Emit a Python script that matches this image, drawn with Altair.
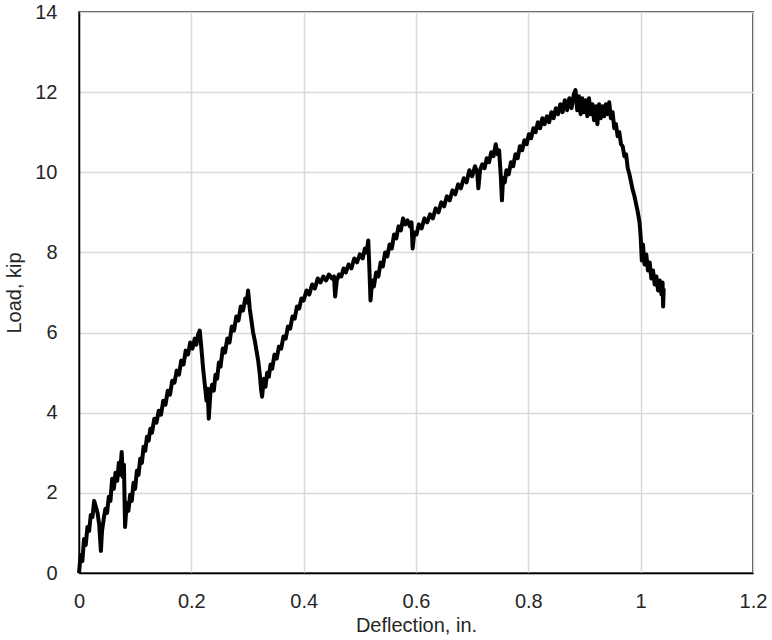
import altair as alt
import pandas as pd

deflection = [
    0.000, 0.003, 0.006, 0.009, 0.012, 0.015, 0.018, 0.021, 0.024, 0.027,
    0.030, 0.033, 0.036, 0.039, 0.041, 0.044, 0.047, 0.050, 0.053, 0.056,
    0.059, 0.062, 0.065, 0.068, 0.071, 0.073, 0.076, 0.078, 0.080, 0.082,
    0.085, 0.088, 0.091, 0.094, 0.097, 0.100, 0.103, 0.106, 0.109, 0.112,
    0.115, 0.118, 0.121, 0.124, 0.127, 0.130, 0.134, 0.138, 0.142, 0.146,
    0.150, 0.154, 0.158, 0.162, 0.166, 0.170, 0.174, 0.178, 0.182, 0.186,
    0.190, 0.194, 0.198, 0.202, 0.206, 0.209, 0.212, 0.215, 0.218, 0.221,
    0.224, 0.227, 0.229, 0.231, 0.234, 0.237, 0.240, 0.243, 0.246, 0.249,
    0.252, 0.256, 0.260, 0.264, 0.268, 0.272, 0.276, 0.280, 0.284, 0.288,
    0.292, 0.296, 0.299, 0.301, 0.304, 0.307, 0.310, 0.313, 0.316, 0.319,
    0.322, 0.324, 0.326, 0.329, 0.332, 0.335, 0.338, 0.341, 0.344, 0.348,
    0.352, 0.356, 0.360, 0.364, 0.368, 0.372, 0.376, 0.380, 0.384, 0.388,
    0.392, 0.396, 0.400, 0.405, 0.410, 0.415, 0.420, 0.425, 0.430, 0.435,
    0.440, 0.445, 0.450, 0.454, 0.456, 0.459, 0.463, 0.467, 0.471, 0.475,
    0.480, 0.485, 0.490, 0.495, 0.500, 0.505, 0.509, 0.512, 0.515, 0.517,
    0.519, 0.522, 0.525, 0.529, 0.533, 0.537, 0.541, 0.545, 0.549, 0.553,
    0.557, 0.561, 0.565, 0.569, 0.573, 0.577, 0.581, 0.585, 0.589, 0.592,
    0.594, 0.597, 0.601, 0.605, 0.610, 0.615, 0.620, 0.625, 0.630, 0.635,
    0.640, 0.645, 0.650, 0.655, 0.660, 0.665, 0.670, 0.675, 0.680, 0.685,
    0.690, 0.695, 0.700, 0.705, 0.709, 0.711, 0.714, 0.718, 0.722, 0.726,
    0.730, 0.734, 0.738, 0.742, 0.745, 0.748, 0.751, 0.753, 0.755, 0.758,
    0.761, 0.765, 0.769, 0.773, 0.777, 0.781, 0.785, 0.789, 0.793, 0.797,
    0.801, 0.805, 0.809, 0.813, 0.817, 0.821, 0.825, 0.829, 0.833, 0.837,
    0.841, 0.845, 0.849, 0.853, 0.857, 0.861, 0.865, 0.869, 0.873, 0.877,
    0.881, 0.884, 0.887, 0.890, 0.893, 0.896, 0.899, 0.902, 0.905, 0.908,
    0.911, 0.914, 0.917, 0.920, 0.923, 0.926, 0.929, 0.932, 0.935, 0.938,
    0.941, 0.944, 0.947, 0.950, 0.953, 0.956, 0.959, 0.962, 0.965, 0.968,
    0.971, 0.974, 0.977, 0.980, 0.983, 0.986, 0.989, 0.992, 0.995, 0.998,
    1.000, 1.002, 1.004, 1.007, 1.010, 1.013, 1.016, 1.019, 1.022, 1.025,
    1.028, 1.031, 1.034, 1.037, 1.039, 1.040, 1.041,
]

load = [
    0.00, 0.45, 0.30, 0.85, 0.70, 1.15, 1.05, 1.45, 1.40, 1.80,
    1.65, 1.50, 1.20, 0.55, 1.05, 1.35, 1.60, 1.50, 1.90, 1.80,
    2.35, 2.10, 2.50, 2.30, 2.75, 2.45, 3.02, 2.40, 2.70, 1.15,
    1.75, 1.55, 1.95, 1.80, 2.25, 2.10, 2.55, 2.45, 2.85, 2.75,
    3.15, 3.05, 3.40, 3.30, 3.60, 3.50, 3.85, 3.75, 4.05, 3.95,
    4.30, 4.20, 4.55, 4.45, 4.80, 4.75, 5.05, 4.95, 5.30, 5.20,
    5.55, 5.45, 5.75, 5.60, 5.85, 5.70, 5.95, 6.05, 5.60, 5.10,
    4.70, 4.30, 4.60, 3.85, 4.50, 4.70, 4.55, 4.95, 4.85, 5.25,
    5.15, 5.60, 5.50, 5.85, 5.75, 6.15, 6.05, 6.40, 6.30, 6.65,
    6.55, 6.85, 6.75, 7.05, 6.60, 6.30, 6.00, 5.80, 5.55, 5.30,
    4.95, 4.60, 4.40, 4.85, 4.65, 5.00, 4.90, 5.20, 5.10, 5.45,
    5.35, 5.65, 5.60, 5.90, 5.85, 6.15, 6.10, 6.40, 6.35, 6.65,
    6.60, 6.85, 6.80, 7.05, 6.95, 7.20, 7.10, 7.35, 7.25, 7.40,
    7.30, 7.45, 7.35, 7.40, 6.90, 7.30, 7.45, 7.40, 7.60, 7.50,
    7.70, 7.60, 7.85, 7.75, 7.95, 7.85, 8.10, 8.00, 8.30, 7.60,
    6.80, 7.30, 7.15, 7.50, 7.40, 7.75, 7.65, 8.00, 7.90, 8.20,
    8.10, 8.45, 8.35, 8.65, 8.55, 8.85, 8.70, 8.80, 8.65, 8.75,
    8.10, 8.50, 8.45, 8.70, 8.60, 8.85, 8.75, 8.95, 8.85, 9.10,
    9.00, 9.25, 9.15, 9.40, 9.30, 9.55, 9.45, 9.70, 9.60, 9.85,
    9.75, 10.05, 9.90, 10.15, 10.00, 9.60, 10.05, 10.20, 10.10, 10.35,
    10.25, 10.50, 10.40, 10.70, 10.45, 10.55, 9.90, 9.30, 9.85, 9.75,
    10.05, 9.95, 10.25, 10.15, 10.45, 10.35, 10.65, 10.55, 10.80, 10.70,
    10.95, 10.85, 11.10, 11.00, 11.25, 11.10, 11.35, 11.20, 11.40, 11.25,
    11.50, 11.35, 11.60, 11.45, 11.70, 11.50, 11.80, 11.55, 11.85, 11.60,
    11.95, 12.05, 11.55, 11.90, 11.45, 11.85, 11.50, 11.80, 11.40, 11.85,
    11.45, 11.70, 11.30, 11.65, 11.20, 11.70, 11.35, 11.65, 11.40, 11.70,
    11.45, 11.75, 11.35, 11.50, 11.10, 11.20, 10.90, 11.00, 10.70, 10.65,
    10.40, 10.45, 10.10, 9.95, 9.75, 9.55, 9.40, 9.20, 9.00, 8.75,
    8.40, 7.80, 8.20, 7.70, 7.95, 7.55, 7.75, 7.35, 7.55, 7.20,
    7.40, 7.05, 7.30, 6.95, 7.25, 6.65, 7.10,
]

x_ticks = [0, 0.2, 0.4, 0.6, 0.8, 1.0, 1.2]
y_ticks = [0, 2, 4, 6, 8, 10, 12, 14]

df = pd.DataFrame({"deflection": deflection, "load": load, "idx": list(range(len(load)))})

FONT = "Liberation Sans"
TEXT = "#262626"

chart = (
    alt.Chart(df)
    .mark_line(color="black", strokeWidth=4, strokeJoin="round")
    .encode(
        x=alt.X(
            "deflection:Q",
            scale=alt.Scale(domain=[0, 1.2], nice=False),
            axis=alt.Axis(
                title="Deflection, in.",
                values=x_ticks,
                labelExpr="format(datum.value, '~g')",
                ticks=False,
                labelFlush=False,
                labelOverlap=False,
                labelBound=False,
                labelPadding=18,
                titlePadding=4,
                domainColor="black",
                domainWidth=1.5,
                gridColor="#d9d9d9",
                gridWidth=1.5,
                labelFont=FONT,
                titleFont=FONT,
                labelFontSize=20,
                titleFontSize=20,
                labelColor=TEXT,
                titleColor=TEXT,
                titleFontWeight="normal",
            ),
        ),
        y=alt.Y(
            "load:Q",
            scale=alt.Scale(domain=[0, 14], nice=False),
            axis=alt.Axis(
                title="Load, kip",
                values=y_ticks,
                ticks=False,
                labelFlush=False,
                labelOverlap=False,
                labelBound=False,
                labelPadding=22,
                titlePadding=10,
                domainColor="black",
                domainWidth=1.5,
                gridColor="#d9d9d9",
                gridWidth=1.5,
                labelFont=FONT,
                titleFont=FONT,
                labelFontSize=20,
                titleFontSize=20,
                labelColor=TEXT,
                titleColor=TEXT,
                titleFontWeight="normal",
            ),
        ),
        order="idx:Q",
    )
    .properties(
        width=674,
        height=561,
        padding={"left": 79, "top": 12, "right": 19, "bottom": 67},
        autosize=alt.AutoSizeParams(type="none"),
        background="white",
    )
    .configure_view(stroke="black", strokeWidth=1.5)
)

chart.save("out.html", embed_options={"renderer": "svg", "actions": False})
